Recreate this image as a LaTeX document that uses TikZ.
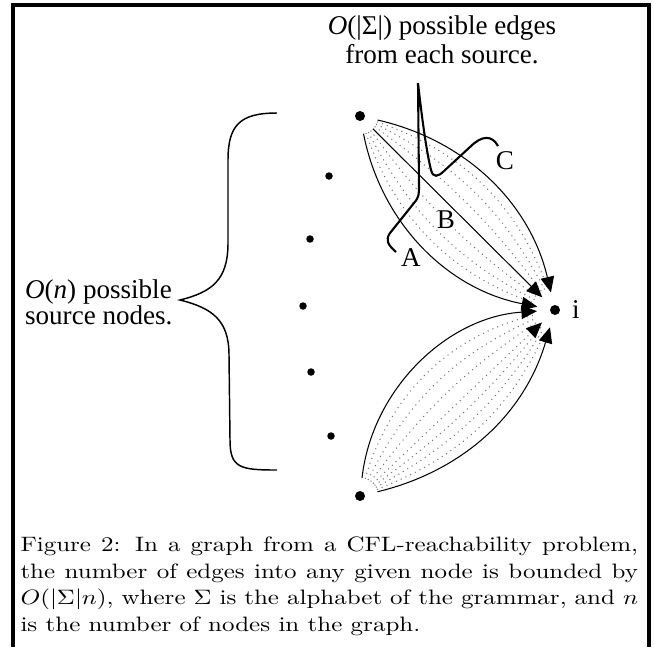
\documentclass[tikz,border=0pt]{standalone}
\usepackage{fontspec}
\newfontfamily\timesfont{Liberation Serif}
\usetikzlibrary{arrows.meta,positioning}

\begin{document}
\begin{tikzpicture}[x=0.48pt, y=-0.48pt, >={Triangle[length=7.5pt,width=6.5pt]}, line width=0.5pt,
  punto/.style={circle, fill, inner sep=0pt, minimum size=4.8pt},
  spunto/.style={punto, minimum size=3.6pt},
  arista/.style={->, shorten <=6pt, shorten >=6pt},
  punteada/.style={dotted, black!55, shorten <=6pt, shorten >=8pt},
  etiq/.style={font=\timesfont\fontsize{13}{13.5}\selectfont}]
  \useasboundingbox (0,0) rectangle (654,647);
  % marco
  \draw[line width=1.7pt] (13,647) -- (13,5) -- (649,5) -- (649,647);
  % nodos
  \node[punto] (s1) at (360,116) {};
  \node[spunto] (s2) at (329,176) {};
  \node[spunto] (s3) at (310,239) {};
  \node[spunto] (s4) at (303,306) {};
  \node[spunto] (s5) at (311,372) {};
  \node[spunto] (s6) at (331,436) {};
  \node[punto] (s7) at (360,496) {};
  \node[punto] (t) at (555,310) {};
  \node[etiq, right=2pt of t] (ti) {i};
  % aristas desde s1
  \foreach \b in {9,18,26} {
    \draw[punteada] (s1) to[bend left=\b] (t);
    \draw[punteada] (s1) to[bend right=\b] (t);
  }
  \draw[arista] (s1) to[bend right=34] (t);
  \draw[arista] (s1) -- (t);
  \draw[arista] (s1) to[bend left=32] (t);
  % aristas desde s7
  \foreach \b in {10,20,30} {
    \draw[punteada] (s7) to[bend left=\b] (t);
    \draw[punteada] (s7) to[bend right=\b*0.75] (t);
  }
  \draw[punteada, shorten >=6pt, -{Triangle[length=7.5pt,width=6.5pt,color=black]}] (s7) -- (t);
  \draw[arista] (s7) to[bend left=40] (t);
  \draw[arista] (s7) to[bend right=30] (t);
  % llave
  \draw[line width=0.7pt] (277,113) .. controls (240,113) and (228,125) .. (228,160)
    -- (228,243) .. controls (228,280) and (212,292) .. (180,300) coordinate (pico)
    .. controls (212,308) and (229,320) .. (229,355) -- (230,440)
    .. controls (230,468) and (240,470) .. (277,470);
  \node[etiq, anchor=east, align=left, font=\timesfont\fontsize{13}{12.5}\selectfont] (fuentes) at (180,302)
    {{\itshape O}({\itshape n}) possible\\source nodes.};
  % puntero A, B, C
  \draw[line width=1pt] (396,252) .. controls (388,245) and (385,240) .. (390,233)
    -- (414,203) .. controls (419,197) and (419,195) .. (419,185) -- (418,83)
    .. controls (421,110) and (426,150) .. (431,170)
    .. controls (433,178) and (438,177) .. (444,171) -- (470,147)
    .. controls (482,135) and (492,135) .. (498,146);
  \node[etiq] (la) at (411,258) {A};
  \node[etiq] (lb) at (446,220) {B};
  \node[etiq] (lc) at (505,161) {C};
  \node[etiq, align=center, font=\timesfont\fontsize{13}{14}\selectfont] (arriba) at (442,40)
    {{\itshape O}(|Σ|) possible edges\\from each source.};
  % pie
  \node[anchor=north west, inner sep=0pt] (pie) at (20,536)
    {\scalebox{1.2}[1]{\parbox{247pt}{\baselineskip=12.9pt
     Figure 2: In a graph from a CFL-reachability problem,\linebreak
     the number of edges into any given node is bounded by\linebreak
     $O(|\Sigma|n)$, where $\Sigma$ is the alphabet of the grammar, and $n$\linebreak
     is the number of nodes in the graph.}}};
\end{tikzpicture}
\end{document}
